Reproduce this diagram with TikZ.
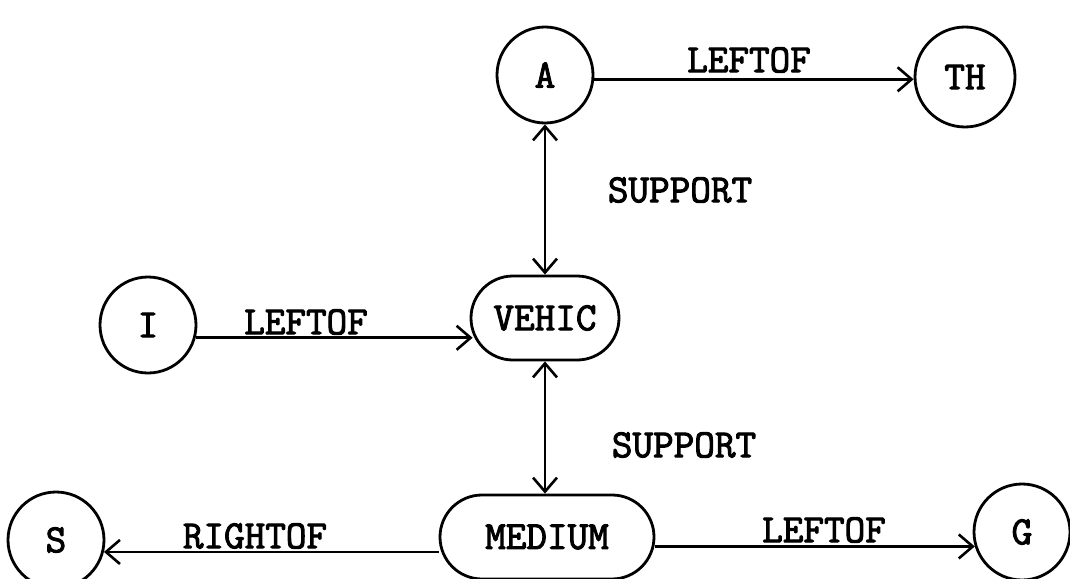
\documentclass[tikz,border=0pt]{standalone}
\usepackage{fontspec}
\setmonofont{Latin Modern Mono}[FakeBold=2.5]
\usetikzlibrary{shapes.misc,arrows.meta}
\begin{document}
\begin{tikzpicture}[x=1pt,y=-1pt,
  every node/.style={font=\fontsize{40}{44}\selectfont\ttfamily},
  circ/.style={draw,circle,line width=2.8pt,minimum size=96pt,inner sep=0pt},
  rbox/.style={draw,rounded rectangle,line width=2.8pt,inner sep=0pt},
  conn/.style={line width=2.6pt,-{Straight Barb[length=14pt,width=24pt,line width=2.6pt]}},
  dconn/.style={line width=2.6pt,{Straight Barb[length=14pt,width=24pt,line width=2.6pt]}-{Straight Barb[length=14pt,width=24pt,line width=2.6pt]}},
  lab/.style={}]
\useasboundingbox (0,0) rectangle (1070,578);
\node[circ] (A) at (545,75) {A};
\node[circ,minimum size=100pt] (TH) at (965,77) {TH};
\node[rbox,minimum width=148pt,minimum height=84pt] (V) at (545,318) {VEHIC};
\node[circ] (I) at (148,325) {I};
\node[rbox,minimum width=214pt,minimum height=84pt] (M) at (547,537) {MEDIUM};
\node[circ] (S) at (56,540) {S};
\node[circ] (G) at (1022,532) {G};
\draw[conn] (A.-5) -- (A.-5 -| TH.west);
\node[lab] (l1) at (749,60) {LEFTOF};
\draw[dconn] (A.south) -- (V.north);
\node[lab] (l2) at (680,190) {SUPPORT};
\draw[conn] (I.-15) -- ([xshift=3pt]I.-15 -| V.west);
\node[lab] (l3) at (306,322) {LEFTOF};
\draw[dconn] (V.south) -- (V.south |- M.north);
\node[lab] (l4) at (684,445) {SUPPORT};
\draw[conn] (S.-14 -| M.west) -- (S.-14);
\node[lab] (l5) at (255,536) {RIGHTOF};
\draw[conn] (G.197 -| M.east) -- (G.197);
\node[lab] (l6) at (824,530) {LEFTOF};
\end{tikzpicture}
\end{document}
